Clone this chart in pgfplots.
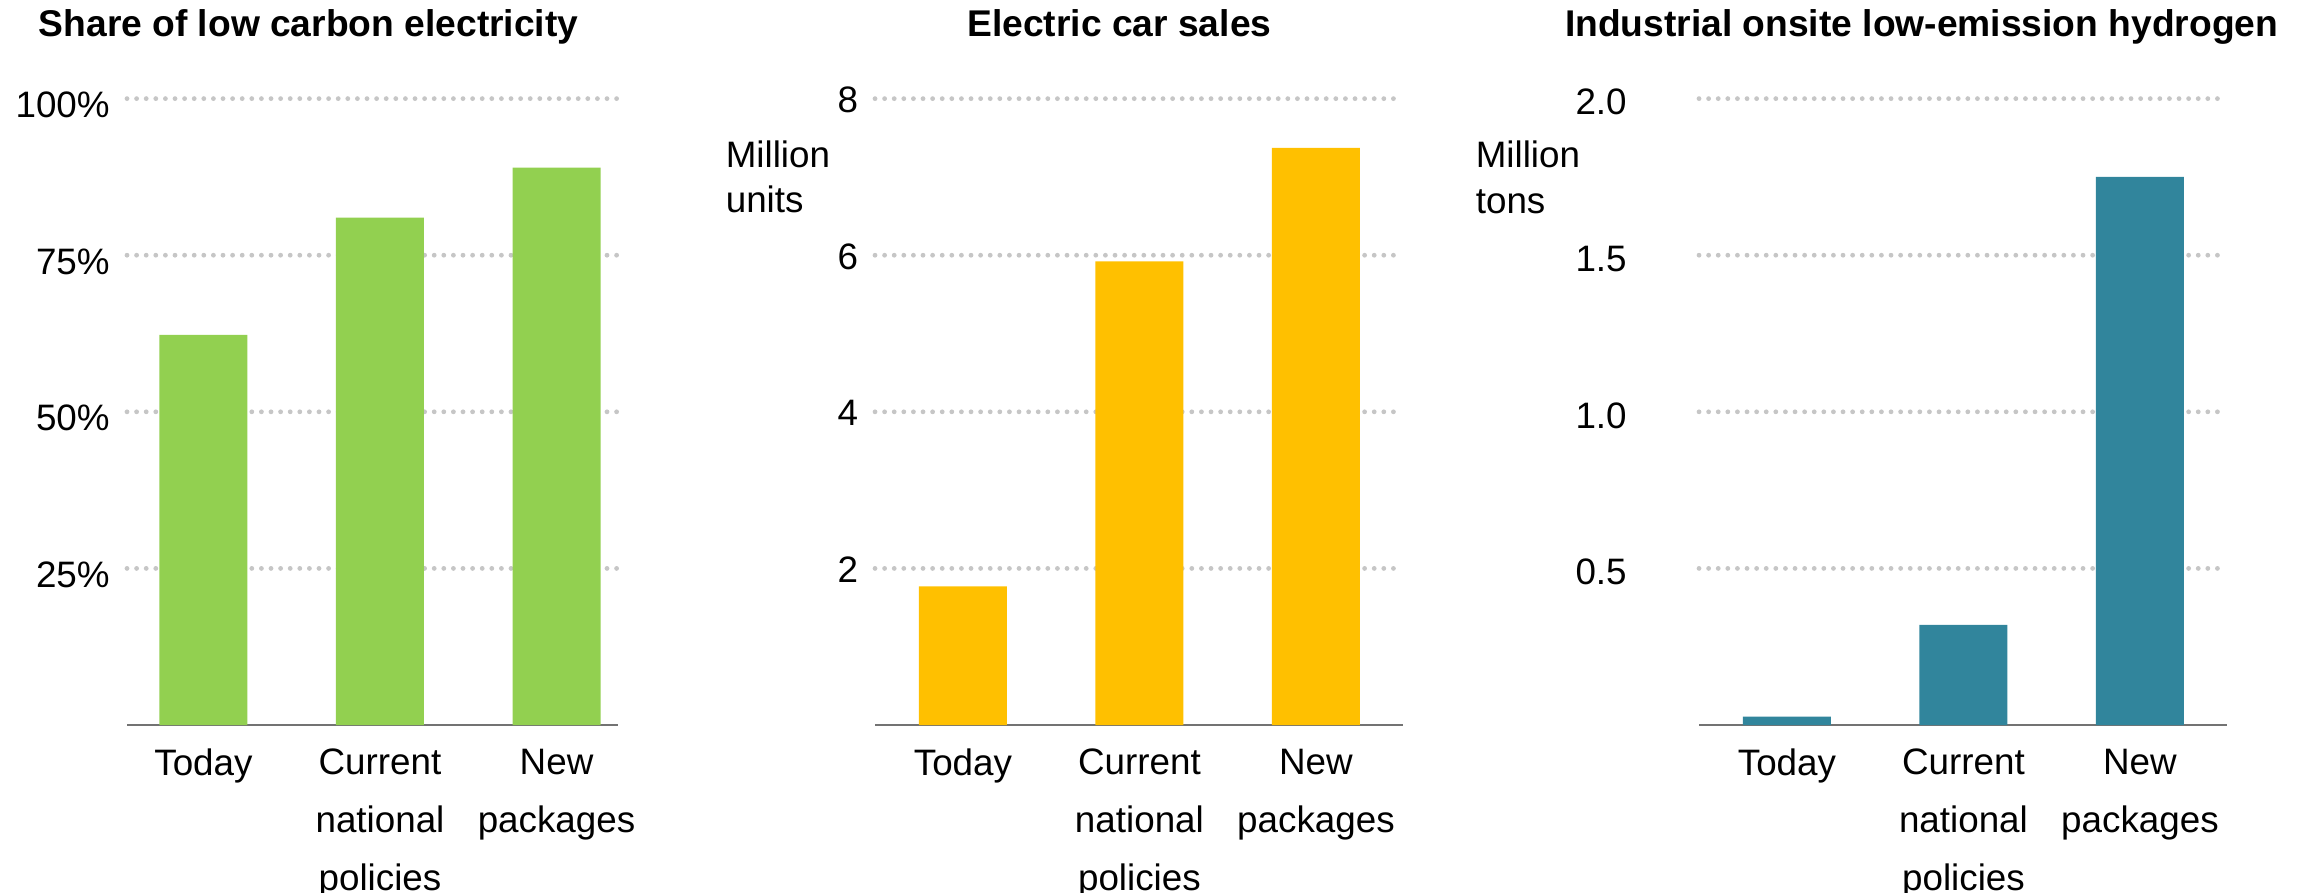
\documentclass[border=0pt]{standalone}
\usepackage{fontspec}
\setmainfont{Liberation Sans}
\usepackage{pgfplots}
\pgfplotsset{compat=1.18}
\definecolor{cgreen}{HTML}{92D050}
\definecolor{cyellow}{HTML}{FFC000}
\definecolor{cteal}{HTML}{31859C}
\definecolor{cgrid}{HTML}{C6C6C6}
\pgfplotsset{
  panel/.style={
    scale only axis,
    height=156.6pt,
    anchor=south west,
    ymin=0,
    axis x line=bottom,
    axis y line=left,
    x axis line style={-, draw=black!55, line width=0.55pt},
    y axis line style={draw=none},
    tick style={draw=none},
    xtick={0,1,2},
    xticklabels={Today, Current\\national\\policies, New\\packages},
    xticklabel style={align=center, anchor=north, inner sep=0pt, yshift=-1.6pt, font=\fontsize{9.2}{14.4}\selectfont},
    yticklabel style={anchor=east, inner sep=0pt, font=\fontsize{9.2}{11}\selectfont},
    ymajorgrids,
    major grid style={draw=cgrid, line width=1.2pt, line cap=round, dash pattern=on 0pt off 2.4pt},
    ybar, bar width=22pt,
    /pgf/number format/assume math mode=true,
    clip=false,
  }
}
\begin{document}
\begin{tikzpicture}
\useasboundingbox (0,0) rectangle (577pt,223pt);
% Panel 1
\begin{axis}[panel, at={(31.75pt,41.75pt)}, width=122.7pt, xmin=-0.433, xmax=2.347,
  ymax=100, ytick={25,50,75,100}, yticklabels={25\%,50\%,75\%,100\%},
  yticklabel style={xshift=-2pt, yshift=-1.6pt}]
\addplot[fill=cgreen, draw=none] coordinates {(0,62.3) (1,81.0) (2,89.0)};
\end{axis}
% Panel 2
\begin{axis}[panel, at={(218.75pt,41.75pt)}, width=131.9pt, xmin=-0.498, xmax=2.491,
  ymax=8, ytick={2,4,6,8}, yticklabels={2,4,6,8},
  yticklabel style={xshift=-1.9pt, yshift=-0.3pt}]
\addplot[fill=cyellow, draw=none] coordinates {(0,1.77) (1,5.92) (2,7.37)};
\end{axis}
% Panel 3
\begin{axis}[panel, at={(424.75pt,41.75pt)}, width=131.9pt, xmin=-0.498, xmax=2.491,
  ymax=2, ytick={0.5,1,1.5,2}, yticklabels={0.5,1.0,1.5,2.0},
  yticklabel style={xshift=-15.75pt, yshift=-0.9pt}]
\addplot[fill=cteal, draw=none] coordinates {(0,0.027) (1,0.32) (2,1.75)};
\end{axis}
% Titles
\node[anchor=base west, inner sep=0pt, font=\bfseries\fontsize{9.3}{11}\selectfont] at (9.5pt,214pt) {Share of low carbon electricity};
\node[anchor=base, inner sep=0pt, font=\bfseries\fontsize{9.3}{11}\selectfont] at (279.85pt,214pt) {Electric car sales};
\node[anchor=base, inner sep=0pt, font=\bfseries\fontsize{9.3}{11}\selectfont] at (480.4pt,214pt) {Industrial onsite low-emission hydrogen};
% Unit labels
\node[anchor=north west, inner sep=0pt, align=left, font=\fontsize{9.2}{11.3}\selectfont] at (181.25pt,188pt) {Million\\units};
\node[anchor=north west, inner sep=0pt, align=left, font=\fontsize{9.2}{11.3}\selectfont] at (368.75pt,187.9pt) {Million\\tons};
\end{tikzpicture}
\end{document}
